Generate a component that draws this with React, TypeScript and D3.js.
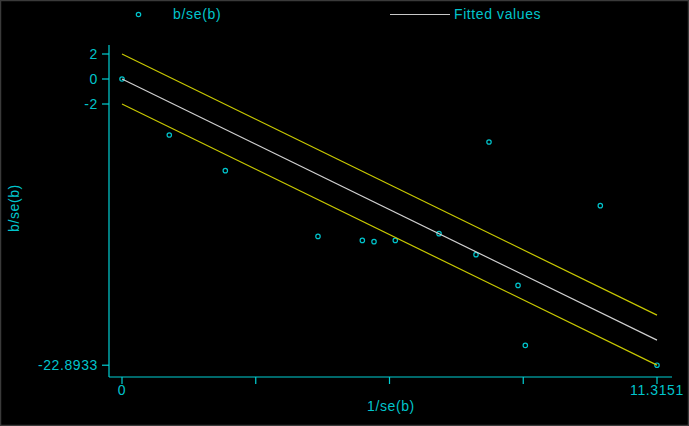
import React from "react";
import * as d3 from "d3";

const invSe: number[] = [0, 1.0, 2.185, 4.145, 5.083, 5.33, 5.78, 6.705, 7.762, 7.487, 8.376, 8.53, 10.116, 11.3151];
const bOverSe: number[] = [0, -4.48, -7.33, -12.59, -12.91, -13.01, -12.91, -12.37, -5.04, -14.05, -16.51, -21.31, -10.13, -22.8933];
const yTicks: number[] = [2, 0, -2, -22.8933];
const yTickLabels: string[] = ["2", "0", "-2", "-22.8933"];
const xMax = 11.3151;
const xTicks: number[] = [0, xMax / 4, xMax / 2, (3 * xMax) / 4, xMax];
const xTickLabels: string[] = ["0", "", "", "", "11.3151"];
const legendLabels: string[] = ["b/se(b)", "Fitted values"];

const W = 689;
const H = 426;
const CYAN = "#00c4cc";
const AXIS = "#00d0d4";
const FONT = "'Liberation Sans', Arial, sans-serif";

export default function App() {
  const x = d3.scaleLinear().domain([0, xMax]).range([122, 657]);
  const y = d3.scaleLinear().domain([0, -22.8933]).range([79, 365.2]);

  // regression through origin
  const sxy = d3.sum(invSe.map((v, i) => v * bOverSe[i]));
  const sxx = d3.sum(invSe.map((v) => v * v));
  const slope = sxy / sxx;
  const fitX = [0, xMax];
  const line = (off: number) =>
    d3
      .line<number>()
      .x((d) => x(d))
      .y((d) => y(slope * d + off))(fitX) as string;

  const plotLeft = 109;
  const plotRight = 672;
  const plotTop = 45;
  const plotBottom = 377;

  return (
    <svg
      width={W}
      height={H}
      style={{ position: "fixed", left: 0, top: 0, background: "#000" }}
      fontFamily={FONT}
    >
      <rect x={0} y={0} width={W} height={H} fill="#000" />
      <rect x={0.5} y={0.5} width={W - 1} height={H - 1} fill="none" stroke="#3a3a3a" strokeWidth={1.5} />

      {/* legend */}
      <circle cx={138.5} cy={14.5} r={2.2} fill="none" stroke={CYAN} strokeWidth={1.2} />
      <text x={173} y={19} fontSize={14} letterSpacing={0.7} fill={CYAN}>
        {legendLabels[0]}
      </text>
      <line x1={390} x2={450} y1={14.5} y2={14.5} stroke="#c8c8c8" strokeWidth={1.2} />
      <text x={454} y={19} fontSize={14} letterSpacing={0.6} fill={CYAN}>
        {legendLabels[1]}
      </text>

      {/* axes */}
      <line x1={plotLeft} x2={plotLeft} y1={plotTop} y2={plotBottom} stroke={AXIS} strokeWidth={1.2} />
      <line x1={plotLeft} x2={plotRight} y1={plotBottom} y2={plotBottom} stroke={AXIS} strokeWidth={1.2} />
      {yTicks.map((t, i) => (
        <g key={"yt" + i}>
          <line x1={plotLeft - 7} x2={plotLeft} y1={y(t)} y2={y(t)} stroke={AXIS} strokeWidth={1.2} />
          <text
            x={plotLeft - 11}
            y={y(t) + 5}
            textAnchor="end"
            fontSize={14}
            letterSpacing={0.6}
            fill={CYAN}
          >
            {yTickLabels[i]}
          </text>
        </g>
      ))}
      {xTicks.map((t, i) => (
        <g key={"xt" + i}>
          <line x1={x(t)} x2={x(t)} y1={plotBottom} y2={plotBottom + 7} stroke={AXIS} strokeWidth={1.2} />
          {xTickLabels[i] && (
            <text
              x={x(t)}
              y={395}
              textAnchor="middle"
              fontSize={14}
              letterSpacing={0.6}
              fill={CYAN}
            >
              {xTickLabels[i]}
            </text>
          )}
        </g>
      ))}
      <text x={391} y={411} textAnchor="middle" fontSize={14} letterSpacing={0.6} fill={CYAN}>
        1/se(b)
      </text>
      <text
        transform={`translate(19, 208) rotate(-90)`}
        textAnchor="middle"
        fontSize={14}
        letterSpacing={0.6}
        fill={CYAN}
      >
        b/se(b)
      </text>

      {/* points */}
      {invSe.map((v, i) => (
        <circle key={"p" + i} cx={x(v)} cy={y(bOverSe[i])} r={2.2} fill="none" stroke={CYAN} strokeWidth={1.2} />
      ))}

      {/* fitted lines */}
      <path d={line(2)} fill="none" stroke="#c8c800" strokeWidth={1.2} />
      <path d={line(-2)} fill="none" stroke="#c8c800" strokeWidth={1.2} />
      <path d={line(0)} fill="none" stroke="#d0d0d0" strokeWidth={1.2} />
    </svg>
  );
}
